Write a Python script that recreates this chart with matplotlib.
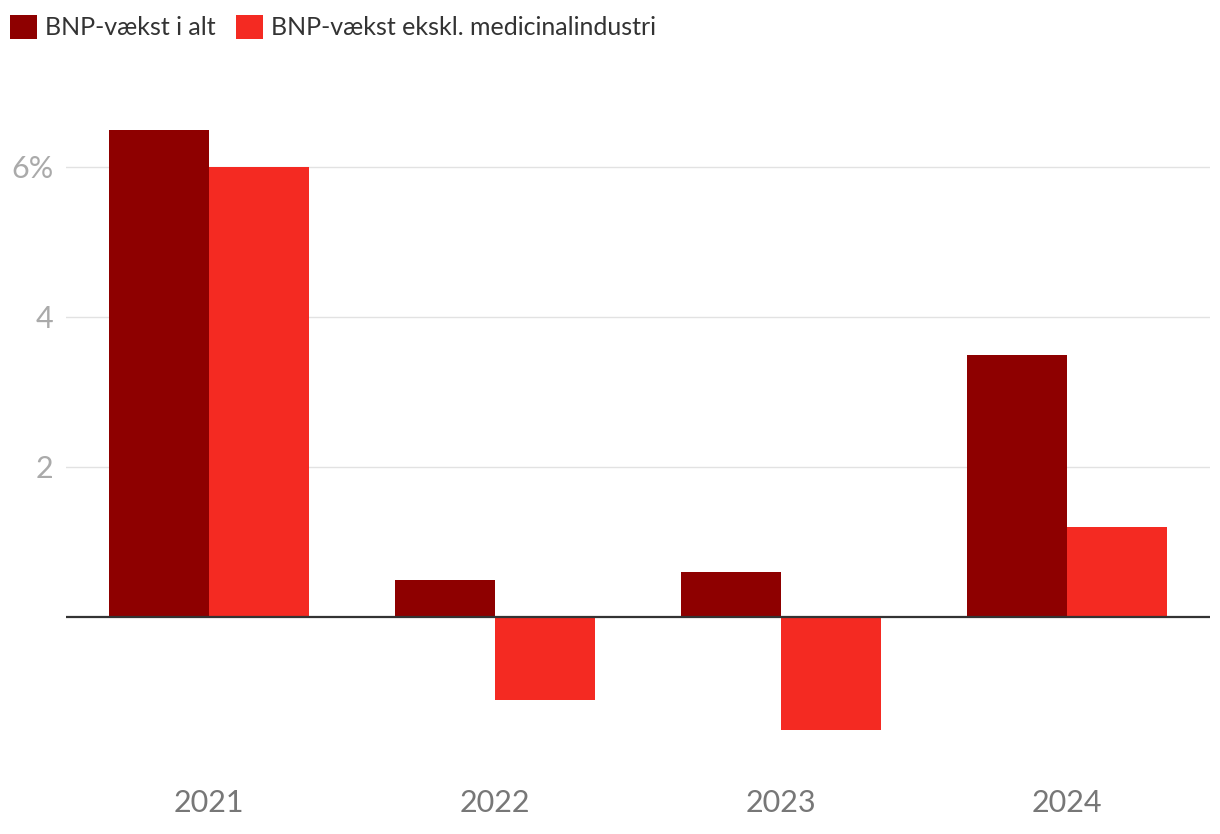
import matplotlib
matplotlib.use('Agg')
import matplotlib.pyplot as plt
from matplotlib.patches import Patch
import numpy as np

years = ['2021', '2022', '2023', '2024']
total = [6.5, 0.5, 0.6, 3.5]
excl_pharma = [6.0, -1.1, -1.5, 1.2]
labels = ['BNP-vækst i alt', 'BNP-vækst ekskl. medicinalindustri']
colors = ['#8e0000', '#f42a22']

yticks = [2, 4, 6]
ytick_labels = ['2', '4', '6%']

plt.rcParams['font.family'] = ['Lato', 'DejaVu Sans']

fig = plt.figure(figsize=(12.2, 8.34), dpi=100)
ax = fig.add_axes([66 / 1220, 1 - 752 / 834, (1210 - 66) / 1220, 675 / 834])

x = np.arange(len(years))
w = 0.35
ax.bar(x - w / 2, total, width=w, color=colors[0], zorder=2)
ax.bar(x + w / 2, excl_pharma, width=w, color=colors[1], zorder=2)

ax.set_xlim(-0.5, 3.5)
ax.set_ylim(-1.8, 7.2)
ax.axhline(0, color='#333333', linewidth=1.6, zorder=3)

ax.set_yticks(yticks)
ax.set_yticklabels(ytick_labels)
ax.set_xticks(x)
ax.set_xticklabels(years)
ax.grid(axis='y', color='#e2e2e2', linewidth=1, zorder=0)
for s in ax.spines.values():
    s.set_visible(False)
ax.tick_params(axis='y', length=0, pad=9, labelsize=22, labelcolor='#aaaaaa')
ax.tick_params(axis='x', length=0, pad=27, labelsize=22, labelcolor='#777777')

handles = [Patch(facecolor=c, edgecolor='none') for c in colors]
fig.legend(handles, labels, loc='upper left', bbox_to_anchor=(10 / 1220, 1 - 15 / 834),
           ncol=2, frameon=False, fontsize=18, handlelength=1.08, handleheight=1.08,
           handletextpad=0.32, columnspacing=0.8, borderpad=0, borderaxespad=0,
           labelcolor='#333333')

fig.savefig('out.png', dpi=100)
